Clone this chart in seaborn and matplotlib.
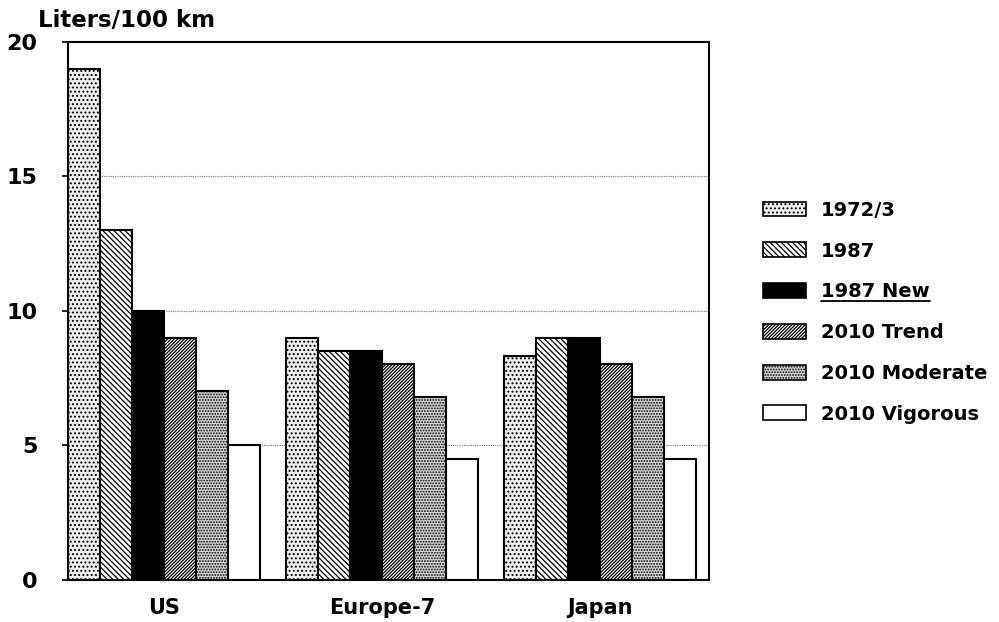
import matplotlib
matplotlib.use("Agg")
import matplotlib.pyplot as plt
from matplotlib.patches import Patch
from matplotlib.lines import Line2D
import seaborn as sns
import pandas as pd

regions = ["US", "Europe-7", "Japan"]
series = ["1972/3", "1987", "1987 New", "2010 Trend", "2010 Moderate", "2010 Vigorous"]
v_1972 = [19.0, 9.0, 8.3]
v_1987 = [13.0, 8.5, 9.0]
v_1987_new = [10.0, 8.5, 9.0]
v_2010_trend = [9.0, 8.0, 8.0]
v_2010_moderate = [7.0, 6.8, 6.8]
v_2010_vigorous = [5.0, 4.5, 4.5]

rows = []
for name, vals in zip(series, [v_1972, v_1987, v_1987_new, v_2010_trend,
                               v_2010_moderate, v_2010_vigorous]):
    for r, v in zip(regions, vals):
        rows.append({"region": r, "series": name, "value": v})
df = pd.DataFrame(rows)

# look of each series: facecolor, hatch
styles = {
    "1972/3": ("#eeeeee", "...."),
    "1987": ("white", "\\" * 6),
    "1987 New": ("black", ""),
    "2010 Trend": ("white", "/" * 10),
    "2010 Moderate": ("#d8d8d8", "......"),
    "2010 Vigorous": ("white", ""),
}

sns.set_style("white")
plt.rcParams["font.family"] = ["DejaVu Sans"]
plt.rcParams["font.weight"] = "bold"
plt.rcParams["text.color"] = "black"
plt.rcParams["xtick.color"] = "black"
plt.rcParams["ytick.color"] = "black"
plt.rcParams["hatch.linewidth"] = 0.9

fig = plt.figure(figsize=(9.99, 6.22), dpi=100)
ax = fig.add_axes([0.068, 0.068, 0.642, 0.865])

sns.barplot(data=df, x="region", y="value", hue="series", order=regions,
            hue_order=series, width=0.88, ax=ax, legend=False, saturation=1)

for name, cont in zip(series, ax.containers):
    fc, h = styles[name]
    for p in cont:
        p.set_facecolor(fc)
        p.set_hatch(h)
        p.set_edgecolor("black")
        p.set_linewidth(1.5)

ax.set_xlim(-0.44, 2.5)
ax.set_ylim(0, 20)
ax.set_yticks([0, 5, 10, 15, 20])
ax.yaxis.grid(True, linestyle=(0, (1, 1)), color="#777777", linewidth=0.8)
ax.set_axisbelow(True)
for s in ax.spines.values():
    s.set_visible(True)
    s.set_color("black")
    s.set_linewidth(1.5)
ax.tick_params(axis="y", length=4, width=1.2, left=True, labelsize=16, pad=18)
ax.tick_params(axis="x", length=0, labelsize=15, pad=13)
for lab in ax.get_xticklabels() + ax.get_yticklabels():
    lab.set_fontweight("bold")
    lab.set_color("black")
ax.set_xlabel("")
ax.set_ylabel("")
fig.text(0.038, 0.948, "Liters/100 km", fontsize=16.5, fontweight="bold",
         va="bottom", color="black")

handles = [Patch(facecolor=styles[n][0], hatch=styles[n][1], edgecolor="black",
                 linewidth=1.2) for n in series]
leg = fig.legend(handles, series, loc="center left", bbox_to_anchor=(0.746, 0.498),
                 frameon=False, fontsize=14, handlelength=2.2, handleheight=0.8,
                 labelspacing=1.12, handletextpad=0.8)
for t in leg.get_texts():
    t.set_fontweight("bold")
    t.set_color("black")

# underline "1987 New"
fig.canvas.draw()
bb = leg.get_texts()[2].get_window_extent().transformed(fig.transFigure.inverted())
fig.add_artist(Line2D([bb.x0, bb.x1], [bb.y0 + 0.001, bb.y0 + 0.001],
                      transform=fig.transFigure, color="black", linewidth=1.3))

fig.savefig("out.png", dpi=100)
